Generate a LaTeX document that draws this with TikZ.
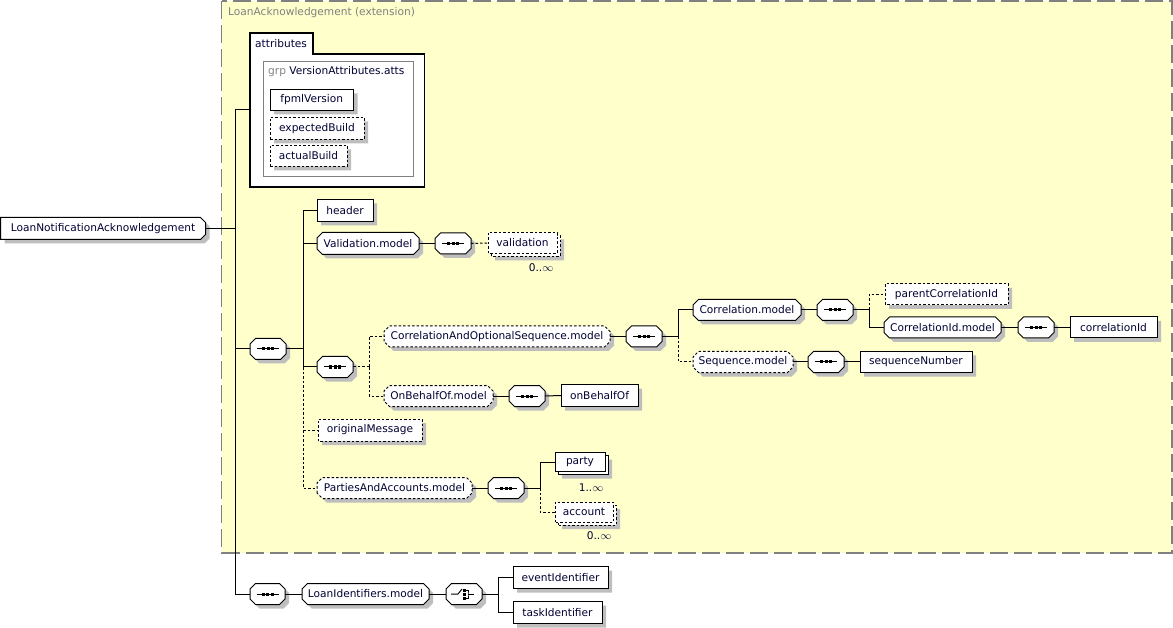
\documentclass[tikz,border=0pt]{standalone}
\usepackage{fontspec}
\setmainfont{DejaVu Sans}
\definecolor{ink}{HTML}{000033}
\definecolor{muted}{HTML}{808080}
\definecolor{ext}{HTML}{FFFFCC}
\definecolor{shadowgray}{HTML}{BEBEBE}
\newcommand\diag{\fontsize{10.6}{12}\selectfont}
% box with cut corners, a drop shadow and an optional copy behind
\makeatletter
\newdimen\octL \newdimen\octR \newdimen\octB \newdimen\octT
\newdimen\octCL \newdimen\octCR \newdimen\octS \newdimen\octK
\pgfkeys{/pgf/octleft/.initial=0pt, /pgf/octright/.initial=0pt,
  /pgf/octshadow/.initial=0pt, /pgf/octcopy/.initial=0pt}
\def\octsetup{%
  \southwest \octL=\pgf@x \octB=\pgf@y
  \northeast \octR=\pgf@x \octT=\pgf@y
  \pgfmathsetlength\octCL{\pgfkeysvalueof{/pgf/octleft}}%
  \pgfmathsetlength\octCR{\pgfkeysvalueof{/pgf/octright}}}
\def\octpath#1{%
  \pgfpathmoveto{\pgfqpoint{\dimexpr\octL+#1\relax}{\dimexpr\octB+\octCL-#1\relax}}%
  \pgfpathlineto{\pgfqpoint{\dimexpr\octL+#1\relax}{\dimexpr\octT-\octCL-#1\relax}}%
  \pgfpathlineto{\pgfqpoint{\dimexpr\octL+\octCL+#1\relax}{\dimexpr\octT-#1\relax}}%
  \pgfpathlineto{\pgfqpoint{\dimexpr\octR-\octCR+#1\relax}{\dimexpr\octT-#1\relax}}%
  \pgfpathlineto{\pgfqpoint{\dimexpr\octR+#1\relax}{\dimexpr\octT-\octCR-#1\relax}}%
  \pgfpathlineto{\pgfqpoint{\dimexpr\octR+#1\relax}{\dimexpr\octB+\octCR-#1\relax}}%
  \pgfpathlineto{\pgfqpoint{\dimexpr\octR-\octCR+#1\relax}{\dimexpr\octB-#1\relax}}%
  \pgfpathlineto{\pgfqpoint{\dimexpr\octL+\octCL+#1\relax}{\dimexpr\octB-#1\relax}}%
  \pgfpathclose}
\pgfdeclareshape{octbox}{
  \inheritsavedanchors[from=rectangle]
  \inheritanchorborder[from=rectangle]
  \inheritanchor[from=rectangle]{center}
  \inheritanchor[from=rectangle]{north}
  \inheritanchor[from=rectangle]{south}
  \inheritanchor[from=rectangle]{east}
  \inheritanchor[from=rectangle]{west}
  \inheritanchor[from=rectangle]{north east}
  \inheritanchor[from=rectangle]{north west}
  \inheritanchor[from=rectangle]{south east}
  \inheritanchor[from=rectangle]{south west}
  \inheritanchor[from=rectangle]{text}
  \inheritanchor[from=rectangle]{base}
  \inheritanchor[from=rectangle]{mid}
  \behindbackgroundpath{
    \octsetup
    \pgfmathsetlength\octS{\pgfkeysvalueof{/pgf/octshadow}}
    \pgfmathsetlength\octK{\pgfkeysvalueof{/pgf/octcopy}}
    \ifdim\octS>0pt
      \begin{pgfscope}
        \pgfsetfillcolor{shadowgray}
        \octpath{\octS}
        \pgfusepath{fill}
      \end{pgfscope}
    \fi
    \ifdim\octK>0pt
      \begin{pgfscope}
        \pgfsetfillcolor{white}\pgfsetstrokecolor{black}
        \octpath{\octK}
        \pgfusepath{fill,stroke}
      \end{pgfscope}
    \fi
  }
  \backgroundpath{
    \octsetup
    \octpath{0pt}
  }
}
\makeatother
\tikzset{
  box/.style={octbox, draw=black, fill=white, line width=1pt, text=ink, font=\diag, inner sep=0pt, minimum height=20pt, anchor=west},
  opt/.style={dash pattern=on 2.5pt off 2pt},
  elem/.style={box, /pgf/octshadow=4pt},
  optelem/.style={elem, opt},
  multi/.style={box, /pgf/octshadow=7pt, /pgf/octcopy=3pt},
  grp/.style={elem, /pgf/octleft=5.5pt, /pgf/octright=5.5pt},
  optgrp/.style={grp, opt},
  rootbox/.style={elem, /pgf/octright=5pt},
  seqbox/.style={grp, minimum width=35pt, path picture={
    \draw[solid, black, line width=1pt] ([xshift=-11pt]path picture bounding box.center) -- ([xshift=11pt]path picture bounding box.center);
    \foreach \dx in {-4.5,0,4.5}
      \fill[black] ([xshift=\dx pt]path picture bounding box.center) ++(-1.5pt,-1.5pt) rectangle ++(3pt,3pt);
  }},
  chobox/.style={grp, minimum width=35pt, path picture={
    \coordinate (q) at (path picture bounding box.center);
    \draw[solid, black, line width=1pt] ([xshift=-13pt]q) -- ([xshift=-6pt]q) -- ([xshift=-2pt,yshift=5pt]q);
    \foreach \dy in {-4,0,4}
      \fill[black] ([yshift=\dy pt]q) ++(-1.5pt,-1.5pt) rectangle ++(3pt,3pt);
    \draw[solid, black, line width=1pt] ([xshift=1.5pt,yshift=4pt]q) -| ([xshift=4pt]q) |- ([xshift=1.5pt,yshift=-4pt]q);
    \draw[solid, black, line width=1pt] ([xshift=4pt]q) -- ([xshift=10pt]q);
  }},
  link/.style={draw=black, line width=1pt},
  optlink/.style={link, opt},
  occ/.style={text=ink, font=\diag, inner sep=0pt},
  extbox/.style={fill=ext, draw=muted, line width=1.5pt, dash pattern=on 18pt off 6pt},
  lbl/.style={text=ink, font=\diag, inner sep=0pt, anchor=west}
}
\begin{document}
\begin{tikzpicture}[x=1pt,y=-1pt]
\useasboundingbox (0,0) rectangle (1173,628);
% extension area
\draw[extbox] (221.5,1) rectangle (1172,553);
\node[lbl, text=muted] (extlbl) at (228,13) {LoanAcknowledgement (extension)};

% attributes
\draw[fill=white, line width=1.2pt] (250,187) -- (250,33) -- (313,33) -- (313,54) -- (424.5,54) -- (424.5,187) -- cycle;
\node[lbl] (attrtab) at (255,43.5) {attributes};
\draw[draw=muted, line width=1pt] (263,62) rectangle (413,177);
\node[lbl] (grplbl) at (268,72) {\textcolor{muted}{grp} VersionAttributes.atts};
\node[elem, minimum width=82.5pt] (fpml) at (270,100) {fpmlVersion};
\node[optelem, minimum width=93pt, minimum height=21pt] (expbuild) at (270,128.5) {expectedBuild};
\node[optelem, minimum width=76pt] (actbuild) at (270,156) {actualBuild};
\coordinate (attrsin) at (250,110);

% root
\node[rootbox, minimum width=204pt, minimum height=21pt] (root) at (0.5,228.5) {LoanNotificationAcknowledgement};
\coordinate (busA) at (235,228.5);
\draw[link] (root.east) -- (busA);
\draw[link] (attrsin) -| (busA);

% main sequence
\node[seqbox] (seqmain) at (250,349) {};
\draw[link] (busA) |- (seqmain.west);
\coordinate (busB) at (303,349);
\draw[link] (seqmain.east) -- (busB);

\node[elem, minimum width=55pt, minimum height=21pt] (header) at (317,210.5) {header};
\node[grp, minimum width=101pt, minimum height=21pt] (valmodel) at (317,243.5) {Validation.model};
\node[seqbox] (valseq) at (435,243.5) {};
\node[multi, opt, minimum width=68pt] (validation) at (488,243) {validation};
\node[occ] (valocc) at (541,268) {0..\(\infty\)};
\draw[link] (busB) |- (header.west);
\draw[link] (busB) |- (valmodel.west);
\draw[link] (valmodel.east) -- (valseq.west);
\draw[optlink] (valseq.east) -- (validation.west);

% correlation / on behalf of
\node[seqbox] (corrseq) at (317,367) {};
\draw[link] (busB) |- (corrseq.west);
\coordinate (busC) at (369,367);
\draw[optlink] (corrseq.east) -- (busC);
\node[optgrp, minimum width=225pt] (coseqmodel) at (384,336.5) {CorrelationAndOptionalSequence.model};
\node[seqbox] (coseq) at (626,336.5) {};
\draw[optlink] (busC) |- (coseqmodel.west);
\draw[link] (coseqmodel.east) -- (coseq.west);
\coordinate (busD) at (678,336.5);
\draw[link] (coseq.east) -- (busD);

\node[grp, minimum width=107pt] (corrmodel) at (693,310) {Correlation.model};
\node[seqbox] (corrmseq) at (817,310) {};
\draw[link] (busD) |- (corrmodel.west);
\draw[link] (corrmodel.east) -- (corrmseq.west);
\coordinate (busE) at (869,310);
\draw[link] (corrmseq.east) -- (busE);
\node[optelem, minimum width=122pt] (parentcorr) at (885,294.5) {parentCorrelationId};
\node[grp, minimum width=116pt] (corridmodel) at (884,327.5) {CorrelationId.model};
\node[seqbox] (corridseq) at (1018,327.5) {};
\node[elem, minimum width=86pt] (corrid) at (1070,327.5) {correlationId};
\draw[optlink] (busE) |- (parentcorr.west);
\draw[link] (busE) |- (corridmodel.west);
\draw[link] (corridmodel.east) -- (corridseq.west);
\draw[link] (corridseq.east) -- (corrid.west);

\node[optgrp, minimum width=99pt] (seqmodel) at (693,362) {Sequence.model};
\node[seqbox] (seqmseq) at (808,362) {};
\node[elem, minimum width=111pt] (seqnum) at (860,362) {sequenceNumber};
\draw[optlink] (busD) |- (seqmodel.west);
\draw[link] (seqmodel.east) -- (seqmseq.west);
\draw[link] (seqmseq.east) -- (seqnum.west);

\node[optgrp, minimum width=108pt] (obomodel) at (384,396) {OnBehalfOf.model};
\node[seqbox] (oboseq) at (509,396) {};
\node[elem, minimum width=76pt, minimum height=21pt] (obo) at (561,395.5) {onBehalfOf};
\draw[optlink] (busC) |- (obomodel.west);
\draw[link] (obomodel.east) -- (oboseq.west);
\draw[link] (oboseq.east) -- (obo.west);

% optional tail
\node[optelem, minimum width=103pt, minimum height=21pt] (origmsg) at (318,430) {originalMessage};
\node[optgrp, minimum width=154pt] (pamodel) at (317,488) {PartiesAndAccounts.model};
\draw[optlink] (corrseq.west -| busB) |- (origmsg.west);
\draw[optlink] (corrseq.west -| busB) |- (pamodel.west);
\node[seqbox] (paseq) at (488,488) {};
\draw[link] (pamodel.east) -- (paseq.west);
\coordinate (busF) at (540,488);
\draw[link] (paseq.east) -- (busF);
\node[multi, minimum width=49pt, minimum height=18pt] (party) at (555,462) {party};
\node[occ] (partyocc) at (591,488) {1..\(\infty\)};
\node[multi, opt, minimum width=57pt, minimum height=19pt] (account) at (555,512) {account};
\node[occ] (accocc) at (599,536) {0..\(\infty\)};
\draw[link] (busF) |- (party.west);
\draw[optlink] (busF) |- (account.west);

% identifiers
\node[seqbox, minimum width=34pt] (seqid) at (250,594) {};
\draw[link] (busA) |- (seqid.west);
\node[grp, minimum width=126pt] (lidmodel) at (302,594) {LoanIdentifiers.model};
\node[chobox] (choice) at (446,594) {};
\draw[link] (seqid.east) -- (lidmodel.west);
\draw[link] (lidmodel.east) -- (choice.west);
\coordinate (busG) at (498,594);
\draw[link] (choice.east) -- (busG);
\node[elem, minimum width=94pt, minimum height=21pt] (eventid) at (513,577.5) {eventIdentifier};
\node[elem, minimum width=88pt, minimum height=21pt] (taskid) at (513,612.5) {taskIdentifier};
\draw[link] (busG) |- (eventid.west);
\draw[link] (busG) |- (taskid.west);
\end{tikzpicture}
\end{document}
